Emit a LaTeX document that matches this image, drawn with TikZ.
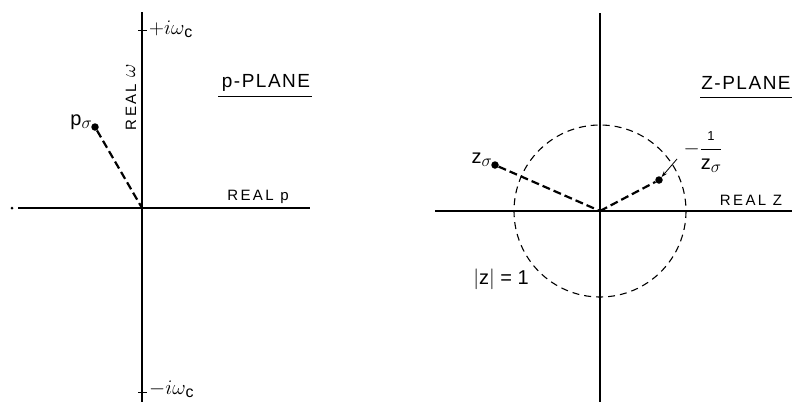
\documentclass[tikz,border=0pt]{standalone}
\usepackage{fontspec}
\setmainfont{Liberation Sans}
\usetikzlibrary{arrows.meta}
\newcommand{\lowsig}{\raisebox{-3pt}{\fontsize{18}{20}\selectfont$\sigma$}}
\newcommand{\lowc}{\raisebox{-3pt}{\fontsize{16}{18}\selectfont c}}
\begin{document}
\begin{tikzpicture}[x=1pt,y=-1pt,
  axis/.style={line width=1.5pt},
  ray/.style={line width=2.2pt, dash pattern=on 8pt off 4pt},
  unitcircle/.style={line width=1.1pt, dash pattern=on 7pt off 5pt},
  pt/.style={circle, fill=black, inner sep=0pt, minimum size=7.5pt},
  lbl/.style={inner sep=1pt, font=\fontsize{20}{22}\selectfont},
  axlbl/.style={inner sep=1pt, font=\fontsize{15}{17}\selectfont\addfontfeature{LetterSpace=16}},
  title/.style={inner sep=1pt, font=\fontsize{19}{21}\selectfont\addfontfeature{LetterSpace=8}},
  tick/.style={line width=1pt}]
\useasboundingbox (0,0) rectangle (792,402);
% ---------- left: p-plane ----------
\coordinate (lo) at (142,208);
\coordinate (ltop) at (142,12);
\coordinate (lbot) at (142,402);
\coordinate (lleft) at (18,208);
\coordinate (lright) at (310,208);
\draw[axis] (ltop) -- (lbot);
\draw[axis] (lleft) -- (lright);
\node[circle, fill=black, inner sep=0pt, minimum size=3pt] (ldot) at (12,208) {};
\coordinate (tp) at (142,30);
\coordinate (tm) at (142,392);
\draw[tick] ([xshift=-4pt]tp) -- ([xshift=5pt]tp);
\draw[tick] ([xshift=-4pt]tm) -- ([xshift=5pt]tm);
\node[lbl, anchor=west] (wp) at (148,29) {$+i\omega$\lowc};
\node[lbl, anchor=west] (wm) at (148,389) {$-i\omega$\lowc};
\node[axlbl, rotate=90] (rw) at (131,97) {REAL \raisebox{1pt}{\fontsize{20}{22}\selectfont$\omega$}};
\node[title] (pplane) at (266,83) {p-PLANE};
\draw[line width=1pt] (218,96) -- (312,96);
\node[axlbl] (rp) at (258,197) {REAL p};
\node[pt] (ps) at (95,127) {};
\node[lbl, anchor=east] (psl) at (93,122) {p\lowsig};
\draw[ray] (ps) -- (lo);
% ---------- right: z-plane ----------
\coordinate (zo) at (600,211);
\coordinate (rtop) at (600,13);
\coordinate (rbot) at (600,402);
\coordinate (rleft) at (435,211);
\coordinate (rright) at (792,211);
\draw[axis] (rtop) -- (rbot);
\draw[axis] (rleft) -- (rright);
\draw[unitcircle] (zo) circle (86);
\node[title] (zplane) at (746,83) {Z-PLANE};
\draw[line width=1pt] (700,97) -- (792,97);
\node[axlbl] (rz) at (751,200) {REAL Z};
\node[pt] (zs) at (495,165) {};
\node[lbl, anchor=east] (zsl) at (493,160) {z\lowsig};
\draw[ray] (zs) -- (zo);
\node[pt] (zi) at (659,180) {};
\draw[ray] (zo) -- (zi);
\node[lbl] (zil) at (703,152) {$-\displaystyle\frac{\mbox{\fontsize{13}{14}\selectfont 1}}{\mbox{z\lowsig}}$};
\draw[line width=0.8pt, -{Stealth[length=6pt,width=4pt]}] (677,159) -- (zi);
\node[lbl] (uc) at (501,279) {$|$z$|$ = 1};
\end{tikzpicture}
\end{document}
